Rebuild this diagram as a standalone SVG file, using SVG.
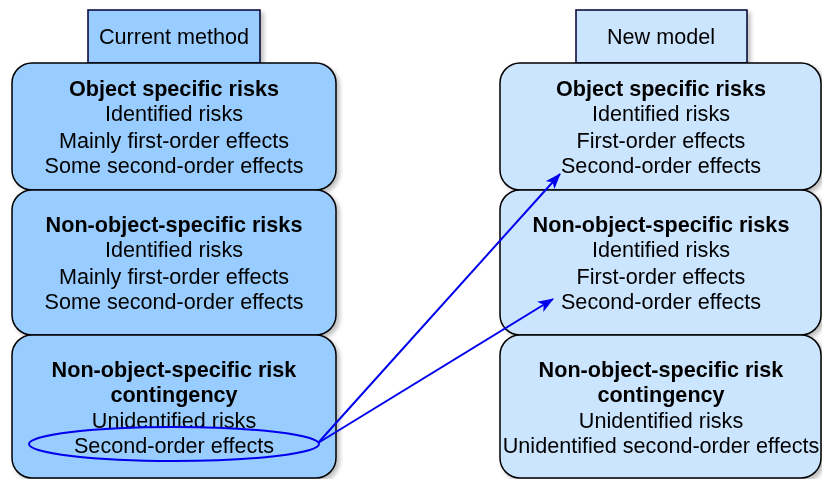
<svg xmlns="http://www.w3.org/2000/svg" width="822" height="479" viewBox="0 0 822 479">
<style>
.t{font-family:"Liberation Sans",Arial,sans-serif;font-size:21.6px;fill:#000;text-anchor:middle}
.b{font-weight:bold}
.l{fill:#99CCFF;stroke:#000;stroke-width:1.5}
.r{fill:#CCE5FF;stroke:#000;stroke-width:1.5}
.hl{fill:#99CCFF;stroke:#000033;stroke-width:1.5}
.hr{fill:#CCE5FF;stroke:#000033;stroke-width:1.5}
.c{fill:none;stroke:#0000EE;stroke-width:2}
</style>
<defs>
<filter id="sh" x="-10%" y="-10%" width="130%" height="130%">
<feGaussianBlur in="SourceAlpha" stdDeviation="2"/>
<feOffset dx="3" dy="3"/>
<feComponentTransfer><feFuncA type="linear" slope="0.25"/></feComponentTransfer>
<feMerge><feMergeNode/><feMergeNode in="SourceGraphic"/></feMerge>
</filter>
<marker id="ah" viewBox="0 0 16 12" refX="15" refY="6" markerWidth="16" markerHeight="12" orient="auto" markerUnits="userSpaceOnUse">
<path d="M0,0 L16,6 L0,12 L4,6 z" fill="#0000EE"/>
</marker>
</defs>
<g id="hdr-current" filter="url(#sh)">
<rect class="hl" x="88" y="10" width="172" height="53"/>
<text class="t" x="174" y="44">Current method</text>
</g>
<g id="hdr-new" filter="url(#sh)">
<rect class="hr" x="576" y="10" width="171" height="53"/>
<text class="t" x="661" y="44">New model</text>
</g>
<g id="l1" filter="url(#sh)">
<rect class="l" x="12" y="63" width="324" height="127" rx="20"/>
<text class="t b" x="174" y="96">Object specific risks</text>
<text class="t" x="174" y="121">Identified risks</text>
<text class="t" x="174" y="148">Mainly first-order effects</text>
<text class="t" x="174" y="173">Some second-order effects</text>
</g>
<g id="l2" filter="url(#sh)">
<rect class="l" x="12" y="190" width="324" height="145" rx="20"/>
<text class="t b" x="174" y="232">Non-object-specific risks</text>
<text class="t" x="174" y="257">Identified risks</text>
<text class="t" x="174" y="284">Mainly first-order effects</text>
<text class="t" x="174" y="309">Some second-order effects</text>
</g>
<g id="l3" filter="url(#sh)">
<rect class="l" x="12" y="335" width="324" height="143" rx="20"/>
<text class="t b" x="174" y="377">Non-object-specific risk</text>
<text class="t b" x="174" y="402">contingency</text>
<text class="t" x="174" y="428">Unidentified risks</text>
<text class="t" x="174" y="453">Second-order effects</text>
</g>
<g id="r1" filter="url(#sh)">
<rect class="r" x="500" y="63" width="321" height="127" rx="20"/>
<text class="t b" x="661" y="96">Object specific risks</text>
<text class="t" x="661" y="121">Identified risks</text>
<text class="t" x="661" y="148">First-order effects</text>
<text class="t" x="661" y="173">Second-order effects</text>
</g>
<g id="r2" filter="url(#sh)">
<rect class="r" x="500" y="190" width="321" height="145" rx="20"/>
<text class="t b" x="661" y="232">Non-object-specific risks</text>
<text class="t" x="661" y="257">Identified risks</text>
<text class="t" x="661" y="284">First-order effects</text>
<text class="t" x="661" y="309">Second-order effects</text>
</g>
<g id="r3" filter="url(#sh)">
<rect class="r" x="500" y="335" width="321" height="143" rx="20"/>
<text class="t b" x="661" y="377">Non-object-specific risk</text>
<text class="t b" x="661" y="402">contingency</text>
<text class="t" x="661" y="428">Unidentified risks</text>
<text class="t" x="661" y="453">Unidentified second-order effects</text>
</g>
<g id="connectors">
<ellipse class="c" cx="174" cy="444" rx="145" ry="17"/>
<path class="c" d="M318,443 L560,174" marker-end="url(#ah)"/>
<path class="c" d="M318,443 L553,299" marker-end="url(#ah)"/>
</g>
</svg>
